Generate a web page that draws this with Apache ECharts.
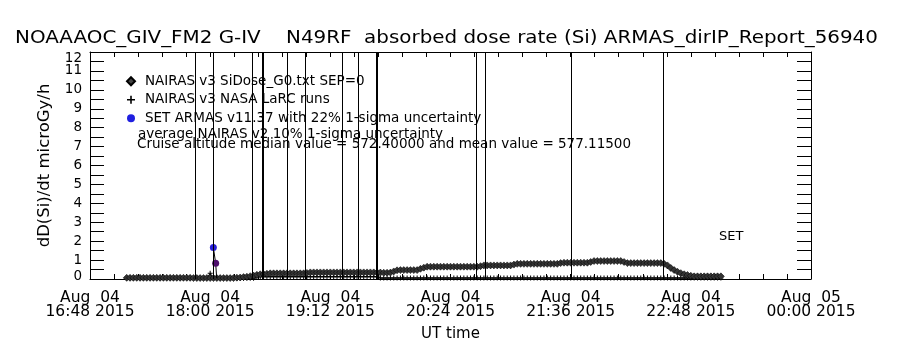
<!DOCTYPE html>
<html><head><meta charset="utf-8">
<script src="https://cdn.jsdelivr.net/npm/echarts@6/dist/echarts.min.js"></script>
<style>html,body{margin:0;padding:0;background:#fff}#c{width:900px;height:350px}</style>
</head><body><div id="c"></div>
<script>
// ---- data (x values are minutes after Aug 04 16:48 UT) ----
const titleText = 'NOAAAOC_GIV_FM2 G-IV    N49RF  absorbed dose rate (Si) ARMAS_dirIP_Report_56940';
const xTickLabels = ['Aug  04\n16:48 2015', 'Aug  04\n18:00 2015', 'Aug  04\n19:12 2015', 'Aug  04\n20:24 2015',
                     'Aug  04\n21:36 2015', 'Aug  04\n22:48 2015', 'Aug  05\n00:00 2015'];
const xMin = 0, xMax = 432, xStep = 72;
const yMin = 0, yMax = 12, yStep = 1;

const sidoseName = 'NAIRAS v3 SiDose_G0.txt SEP=0';
const sidoseStart = 22, sidoseStep = 2;
const sidoseValues = [
  0.06,0.06,0.06,0.06,0.06,0.06,0.06,0.06,0.06,0.06,0.06,0.06,0.06,0.06,0.06,0.06,0.06,0.06,0.06,0.06,
  0.05,0.05,0.05,0.05,0.05,0.05,0.05,0.05,0.05,0.05,0.05,0.05,0.05,
  0.07,0.08,0.10,0.12,0.15,0.18,0.22,0.25,0.26,0.28,
  0.30,0.30,0.30,0.30,0.30,0.30,0.30,0.30,0.30,0.30,0.30,
  0.32,
  0.35,0.35,0.35,0.35,0.35,0.35,0.35,0.35,0.35,0.35,0.35,0.35,0.35,0.35,0.35,0.35,0.35,0.35,0.35,0.35,0.35,
  0.34,0.33,0.33,0.34,0.40,0.46,
  0.47,0.47,0.47,0.47,0.47,0.47,
  0.54,0.60,
  0.65,0.65,0.65,0.65,0.65,0.65,0.65,0.65,0.65,0.65,0.65,0.65,0.65,0.65,0.65,0.65,
  0.68,
  0.72,0.72,0.72,0.72,0.72,0.72,0.72,0.72,0.72,
  0.76,
  0.80,0.80,0.80,0.80,0.80,0.80,0.80,0.80,0.80,0.80,0.80,0.80,0.80,
  0.84,
  0.86,0.86,0.86,0.86,0.86,0.86,0.86,0.86,
  0.90,
  0.95,0.95,0.95,0.95,0.95,0.95,0.95,0.95,0.95,
  0.90,
  0.84,0.84,0.84,0.84,0.84,0.84,0.84,0.84,0.84,0.84,0.84,
  0.80,0.72,0.58,0.47,0.38,0.31,0.25,0.21,0.17,
  0.14,0.14,0.14,0.14,0.14,0.14,0.14,0.14,0.14
];

const larcName = 'NAIRAS v3 NASA LaRC runs';
const larcStart = 22, larcStep = 2;
const larcValues = [
  0.04,0.04,0.04,0.04,0.04,0.04,0.04,0.04,0.04,0.04,0.04,0.04,0.04,0.04,0.04,0.04,0.04,0.04,0.04,0.04,0.04,0.04,0.04,0.04,0.04,
  0.30,
  0.04,0.04,0.04,0.04,0.04,0.04,0.04,0.04,0.04,0.04,0.04,0.04,0.04,
  0.12,0.12,0.12,0.12,0.12,0.12,0.12,0.12,0.12,0.12,0.12,0.12,0.12,0.12,0.12,0.12,0.12,0.12,0.12,0.12,
  0.12,0.12,0.12,0.12,0.12,0.12,0.12,0.12,0.12,0.12,0.12,0.12,0.12,0.12,0.12,0.12,0.12,
  0.05,0.05,0.05,0.05,0.05,0.05,0.05,0.05,0.05,0.05,0.05,0.05,0.05,0.05,0.05,0.05,0.05,0.05,0.05,0.05,
  0.05,0.05,0.05,0.05,0.05,0.05,0.05,0.05,0.05,0.05,0.05,0.05,0.05,0.05,0.05,0.05,0.05,0.05,0.05,0.05,
  0.05,0.05,0.05,0.05,0.05,0.05,0.05,0.05,0.05,0.05,0.05,0.05,0.05,0.05,0.05,0.05,0.05,0.05,0.05,0.05,
  0.05,0.05,0.05,0.05,0.05,0.05,0.05,0.05,0.05,0.05,0.05,0.05,0.05,0.05,0.05,0.05,0.05,0.05,0.05,0.05,
  0.05,0.05,0.05,0.05,0.05,0.05,0.05,0.05,0.05,0.05,0.05,0.05,0.05,0.05,0.05,0.05,0.05,0.05,0.05,0.05,
  0.05,0.05,0.05
];
// times where the LaRC runs shoot off the top of the scale
const larcSpikeMinutes = [63.3, 73.9, 97.2, 103.4, 104.0, 117.9, 129.0, 151.0, 160.8, 171.6, 172.4, 231.7, 236.7, 288.2, 343.5];

const setName = 'SET ARMAS v11.37 with 22% 1-sigma uncertainty';
const setMinutes = [73.9, 75.3, 75.9];
const setValues = [1.67, 0.83, 0.05];

const noteLines = ['average NAIRAS v2 10% 1-sigma uncertainty',
                   'Cruise altitude median value = 572.40000 and mean value = 577.11500'];
const setLabel = 'SET';
const yName = 'dD(Si)/dt microGy/h';
const xName = 'UT time';

// ---- chart ----
const FONT = 'DejaVu Sans';
const plusPath = 'path://M4,0H6V4H10V6H6V10H4V6H0V4H4Z';
const chart = echarts.init(document.getElementById('c'), null, {renderer: 'canvas'});

const tickCommon = {
  axisLine: {show: true, onZero: false, lineStyle: {color: '#000', width: 1}},
  splitLine: {show: false}, minorSplitLine: {show: false}
};
const xCommon = Object.assign({
  type: 'value', min: xMin, max: xMax, interval: xStep,
  axisTick: {show: true, inside: true, length: 5, lineStyle: {color: '#000', width: 1}},
  minorTick: {show: true, splitNumber: 5, length: 5, lineStyle: {color: '#000', width: 1}}
}, tickCommon);
const yCommon = Object.assign({
  type: 'value', min: yMin, max: yMax, interval: yStep,
  axisTick: {show: true, inside: true, length: 14, lineStyle: {color: '#000', width: 1}},
  minorTick: {show: true, splitNumber: 2, length: 14, lineStyle: {color: '#000', width: 1}}
}, tickCommon);
const yLabelBase = {margin: 8, fontFamily: FONT, fontSize: 13.5, lineHeight: 12, color: '#000',
                    showMinLabel: true, showMaxLabel: true, hideOverlap: false};

chart.setOption({
  animation: false,
  backgroundColor: '#fff',
  grid: {left: 90, right: 89, top: 52, bottom: 71, containLabel: false},
  legend: {
    orient: 'vertical', left: 121, top: 67, itemWidth: 8, itemHeight: 8, itemGap: 0,
    selectedMode: false,
    textStyle: {fontFamily: FONT, fontSize: 13.5, color: '#000', lineHeight: 18.5, padding: [0, 0, 0, 5]},
    data: [
      {name: sidoseName, icon: 'diamond', itemStyle: {color: '#444'}},
      {name: larcName, icon: plusPath, itemStyle: {color: '#000'}},
      {name: setName, icon: 'circle', itemStyle: {color: '#1f1fe0'}}
    ]
  },
  xAxis: [
    Object.assign({}, xCommon, {
      position: 'bottom',
      axisLabel: {
        formatter: v => xTickLabels[Math.round((v - xMin) / xStep)],
        fontFamily: FONT, fontSize: 15.5, lineHeight: 14, margin: 12, color: '#000',
        showMinLabel: true, showMaxLabel: true, hideOverlap: false
      },
      name: xName, nameLocation: 'middle', nameGap: 48,
      nameTextStyle: {fontFamily: FONT, fontSize: 15, color: '#000'}
    }),
    Object.assign({}, xCommon, {position: 'top', axisLabel: {show: false}})
  ],
  yAxis: [
    Object.assign({}, yCommon, {
      position: 'left',
      axisLabel: Object.assign({}, yLabelBase, {
        formatter: v => v === yMax ? '' : (v === yMin ? '{b|' + v + '}' : String(v)),
        rich: {b: {padding: [0, 0, 6, 0], lineHeight: 10, fontFamily: FONT, fontSize: 13.5, color: '#000'}}
      }),
      name: yName, nameLocation: 'middle', nameGap: 37, nameRotate: 90,
      nameTextStyle: {fontFamily: FONT, fontSize: 16.5, color: '#000'}
    }),
    Object.assign({}, yCommon, {position: 'right', axisLabel: {show: false}}),
    // carries only the top label, nudged down inside the frame as in the original
    Object.assign({}, yCommon, {
      position: 'left', axisLine: {show: false}, axisTick: {show: false}, minorTick: {show: false},
      axisLabel: Object.assign({}, yLabelBase, {
        formatter: v => v === yMax ? '{t|' + v + '}' : '',
        rich: {t: {padding: [12, 0, 0, 0], lineHeight: 10, fontFamily: FONT, fontSize: 13.5, color: '#000'}}
      })
    })
  ],
  graphic: [
    {type: 'text', x: 15, y: 30, scaleX: 1.17, silent: true,
     style: {text: titleText, font: '17px "DejaVu Sans"', fill: '#000', align: 'left', verticalAlign: 'top'}},
    {type: 'text', left: 138, top: 127, silent: true,
     style: {text: noteLines[0], font: '13.5px "DejaVu Sans"', fill: '#000'}},
    {type: 'text', left: 137, top: 137, silent: true,
     style: {text: noteLines[1], font: '13.5px "DejaVu Sans"', fill: '#000'}},
    {type: 'text', left: 719, top: 230, silent: true,
     style: {text: setLabel, font: '13px "DejaVu Sans"', fill: '#000'}}
  ],
  series: [
    {
      name: sidoseName, type: 'line', clip: true,
      data: sidoseValues.map((v, i) => [sidoseStart + i * sidoseStep, v]),
      symbol: 'diamond', symbolSize: 7, showSymbol: true,
      itemStyle: {color: '#333', borderColor: '#000', borderWidth: 0.5},
      lineStyle: {color: '#000', width: 1}, z: 3
    },
    {
      name: larcName, type: 'line', clip: true,
      data: larcValues.map((v, i) => [larcStart + i * larcStep, v]),
      symbol: plusPath, symbolSize: 5, showSymbol: true,
      itemStyle: {color: '#000'},
      lineStyle: {color: '#000', width: 1}, z: 2,
      markLine: {
        silent: true, symbol: 'none', label: {show: false},
        lineStyle: {color: '#000', width: 1, type: 'solid'},
        emphasis: {disabled: true},
        data: larcSpikeMinutes.map(m => ({xAxis: m}))
      }
    },
    {
      name: setName, type: 'line', clip: true,
      data: setMinutes.map((m, i) => {
        const d = {value: [m, setValues[i]]};
        if (i === 0) d.itemStyle = {color: '#2a20d8'};
        if (i === 1) d.itemStyle = {color: '#4e0e6c'};
        if (i === 2) d.symbol = 'none';
        return d;
      }),
      symbol: 'circle', symbolSize: 7,
      itemStyle: {color: '#1f1fe0'},
      lineStyle: {color: '#000', width: 1}, z: 4
    }
  ]
});
</script>
</body></html>
